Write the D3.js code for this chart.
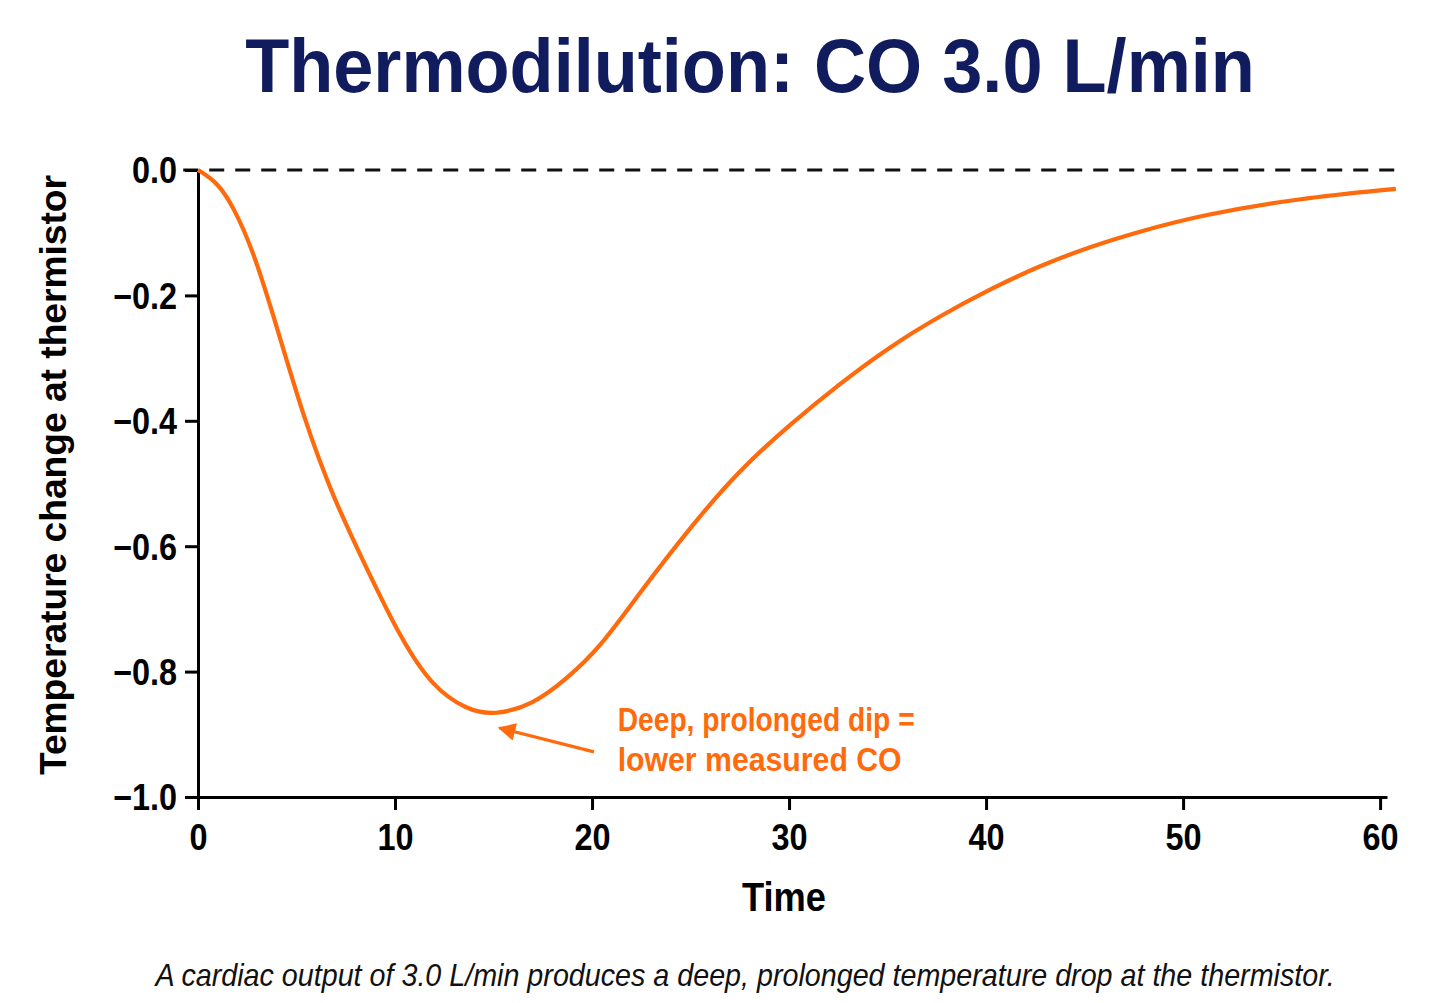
<!DOCTYPE html>
<html>
<head>
<meta charset="utf-8">
<script src="https://cdn.jsdelivr.net/npm/d3@7"></script>
<style>
  body { margin: 0; background: #ffffff; }
  svg { display: block; }
</style>
</head>
<body>
<script>
// values
const timePoints = [0, 1, 1.8, 2.8, 4.0, 5.4, 6.85, 8.6, 10.25, 11.9, 13.65, 15.0, 17.0, 18.7, 20.4, 22.4, 25.0, 27.5, 30.0, 32.6, 35.1, 37.7, 40.2, 42.7, 45.3, 47.8, 50.9, 55.9, 60.8];
const tempChange = [0, -0.02, -0.059, -0.128, -0.250, -0.399, -0.522, -0.638, -0.745, -0.825, -0.861, -0.870, -0.853, -0.812, -0.762, -0.675, -0.569, -0.478, -0.407, -0.340, -0.282, -0.232, -0.190, -0.153, -0.122, -0.098, -0.072, -0.045, -0.030];
const xTicks = [0, 10, 20, 30, 40, 50, 60];
const yTicks = [0, -0.2, -0.4, -0.6, -0.8, -1.0];

const titleText = "Thermodilution: CO 3.0 L/min";
const xLabel = "Time";
const yLabel = "Temperature change at thermistor";
const noteLines = ["Deep, prolonged dip =", "lower measured CO"];
const caption = "A cardiac output of 3.0 L/min produces a deep, prolonged temperature drop at the thermistor.";

const W = 1448, H = 1003;
const orange = "#ff6a0d";
const navy = "#111c5e";
const sans = "'Liberation Sans', Arial, sans-serif";

const svg = d3.select("body").append("svg")
  .attr("width", W)
  .attr("height", H);

svg.append("rect").attr("width", W).attr("height", H).attr("fill", "#fff");

const x = d3.scaleLinear().domain([0, 60.35]).range([198, 1387]);
const y = d3.scaleLinear().domain([-1, 0]).range([797, 170]);

// squeeze a text horizontally to a target width (stand-in for a condensed face)
function squeeze(sel, cx, cy, width) {
  const w = sel.node().getComputedTextLength();
  sel.attr("x", 0).attr("y", 0)
    .attr("text-anchor", "middle")
    .attr("transform", `translate(${cx}, ${cy}) scale(${width / w}, 1)`);
}

// title
svg.append("text")
  .attr("font-family", sans)
  .attr("font-weight", "bold")
  .attr("font-size", 76)
  .attr("fill", navy)
  .text(titleText)
  .call(squeeze, 750, 92, 1010);

// zero reference line
svg.append("line")
  .attr("x1", x(-0.75)).attr("x2", x(60.9))
  .attr("y1", y(0)).attr("y2", y(0))
  .attr("stroke", "#111")
  .attr("stroke-width", 3)
  .attr("stroke-dasharray", "15,11");

// axes
const xAxis = d3.axisBottom(x)
  .tickValues(xTicks)
  .tickFormat(d3.format("d"))
  .tickSize(13)
  .tickSizeOuter(0)
  .tickPadding(14);
const gx = svg.append("g")
  .attr("transform", `translate(0, ${y(-1)})`)
  .call(xAxis);

const yAxis = d3.axisLeft(y)
  .tickValues(yTicks)
  .tickFormat(d => d === 0 ? "0.0" : "\u2212" + d3.format(".1f")(-d))
  .tickSize(13)
  .tickSizeOuter(0)
  .tickPadding(8);
const gy = svg.append("g")
  .attr("transform", `translate(${x(0)}, 0)`)
  .call(yAxis);

[gx, gy].forEach(g => {
  g.select(".domain").attr("stroke", "#000").attr("stroke-width", 3);
  g.selectAll(".tick line").attr("stroke", "#000").attr("stroke-width", 3);
  g.selectAll(".tick text")
    .attr("fill", "#000")
    .attr("font-family", sans)
    .attr("font-weight", "bold")
    .attr("font-size", 36);
});
gx.selectAll(".tick text")
  .attr("dy", "0.72em")
  .attr("textLength", function () { return this.getComputedTextLength() * 0.9; })
  .attr("lengthAdjust", "spacingAndGlyphs");
gy.selectAll(".tick text")
  .attr("dy", "0.36em")
  .attr("textLength", function () { return this.getComputedTextLength() * 0.9; })
  .attr("lengthAdjust", "spacingAndGlyphs");

// axis titles
svg.append("text")
  .attr("font-family", sans)
  .attr("font-weight", "bold")
  .attr("font-size", 40)
  .attr("fill", "#000")
  .text(xLabel)
  .call(squeeze, 784, 911, 84);

svg.append("text")
  .attr("transform", "translate(66, 475) rotate(-90)")
  .attr("text-anchor", "middle")
  .attr("font-family", sans)
  .attr("font-weight", "bold")
  .attr("font-size", 37)
  .attr("textLength", 600)
  .attr("lengthAdjust", "spacingAndGlyphs")
  .attr("fill", "#000")
  .text(yLabel);

// curve
const curveData = timePoints.map((t, i) => ({ t, v: tempChange[i] }));
const line = d3.line()
  .x(d => x(d.t))
  .y(d => y(d.v))
  .curve(d3.curveBasis);

svg.append("path")
  .datum(curveData)
  .attr("d", line)
  .attr("fill", "none")
  .attr("stroke", orange)
  .attr("stroke-width", 4.2)
  .attr("stroke-linejoin", "round");

// annotation arrow
const defs = svg.append("defs");
defs.append("marker")
  .attr("id", "head")
  .attr("viewBox", "0 0 10 10")
  .attr("refX", 9)
  .attr("refY", 5)
  .attr("markerWidth", 6.5)
  .attr("markerHeight", 5.5)
  .attr("markerUnits", "strokeWidth")
  .attr("orient", "auto")
  .append("path")
  .attr("d", "M0,0 L10,5 L0,10 Z")
  .attr("fill", orange);

svg.append("line")
  .attr("x1", x(20.1)).attr("y1", y(-0.928))
  .attr("x2", x(15.3)).attr("y2", y(-0.890))
  .attr("stroke", orange)
  .attr("stroke-width", 3.2)
  .attr("marker-end", "url(#head)");

const noteWidths = [297, 284];
const note = svg.append("text")
  .attr("font-family", sans)
  .attr("font-weight", "bold")
  .attr("font-size", 33)
  .attr("fill", orange);
noteLines.forEach((s, i) => {
  note.append("tspan")
    .attr("x", x(21.3))
    .attr("y", y(-0.895 - i * 0.064))
    .attr("textLength", noteWidths[i])
    .attr("lengthAdjust", "spacingAndGlyphs")
    .text(s);
});

// caption
svg.append("text")
  .attr("font-family", sans)
  .attr("font-style", "italic")
  .attr("font-size", 32)
  .attr("fill", "#111")
  .text(caption)
  .call(squeeze, 745, 986, 1180);
</script>
</body>
</html>
